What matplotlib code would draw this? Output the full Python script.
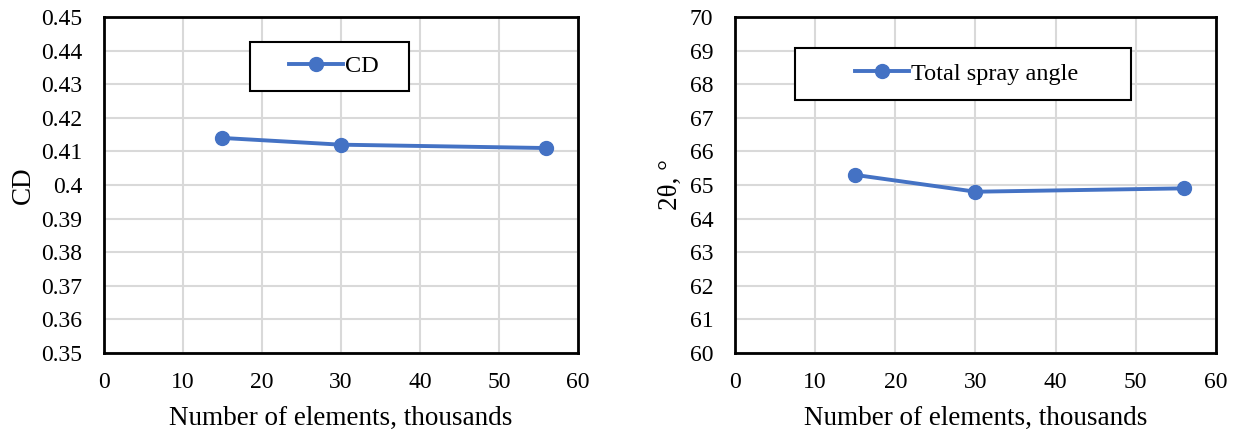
#!/usr/bin/env python3

import matplotlib
matplotlib.use("Agg")
import matplotlib.pyplot as plt
from matplotlib.patches import Rectangle
from matplotlib.ticker import FuncFormatter, MultipleLocator

# Data
elements = [15, 30, 56]
cd_values = [0.414, 0.412, 0.411]
spray_angle = [65.3, 64.8, 64.9]

plt.rcParams["font.family"] = ["Liberation Serif", "DejaVu Serif"]
plt.rcParams["font.size"] = 17

BLUE = "#4472C4"
GRID = "#d9d9d9"
LABEL_SIZE = 19.5


def style_axes(ax):
    ax.set_xlim(0, 60)
    ax.xaxis.set_major_locator(MultipleLocator(10))
    ax.grid(True, color=GRID, linewidth=1.5)
    ax.set_axisbelow(True)
    for spine in ax.spines.values():
        spine.set_linewidth(2)
        spine.set_color("black")
    ax.tick_params(axis="x", length=0, pad=14, labelsize=17)
    ax.tick_params(axis="y", length=0, pad=15.5, labelsize=17)
    ax.set_xlabel("Number of elements, thousands", fontsize=LABEL_SIZE, labelpad=9)


def boxed_legend(ax, box, offset=0.0):
    x0, y0, x1, y1 = box
    ax.add_patch(
        Rectangle(
            (x0, y0), x1 - x0, y1 - y0,
            transform=ax.transAxes,
            facecolor="white",
            edgecolor="black",
            linewidth=1.5,
            zorder=5,
        )
    )
    leg = ax.legend(
        loc="center",
        bbox_to_anchor=((x0 + x1) / 2 + offset, (y0 + y1) / 2),
        frameon=False,
        fontsize=17.5,
        handlelength=2.2,
        handletextpad=0.1,
        borderpad=0.2,
    )
    leg.set_zorder(6)


fig = plt.figure(figsize=(12.39, 4.36), dpi=100)
ax1 = fig.add_axes([0.0839, 0.1904, 0.3826, 0.7706])
ax2 = fig.add_axes([0.5932, 0.1904, 0.3882, 0.7706])

ax1.plot(elements, cd_values, color=BLUE, linewidth=2.8, marker="o",
         markersize=10, label="CD", zorder=3)
ax1.set_ylim(0.35, 0.45)
ax1.yaxis.set_major_locator(MultipleLocator(0.01))
ax1.yaxis.set_major_formatter(FuncFormatter(lambda v, _: f"{round(v, 2):g}"))
ax1.set_ylabel("CD", fontsize=LABEL_SIZE, labelpad=4)
style_axes(ax1)
boxed_legend(ax1, (0.308, 0.780, 0.643, 0.926), offset=0.01)

ax2.plot(elements, spray_angle, color=BLUE, linewidth=2.8, marker="o",
         markersize=10, label="Total spray angle", zorder=3)
ax2.set_ylim(60, 70)
ax2.yaxis.set_major_locator(MultipleLocator(1))
ax2.set_ylabel("2θ, °", fontsize=LABEL_SIZE, labelpad=5)
style_axes(ax2)
boxed_legend(ax2, (0.125, 0.753, 0.823, 0.908), offset=0.008)

fig.savefig("out.png", dpi=100)
